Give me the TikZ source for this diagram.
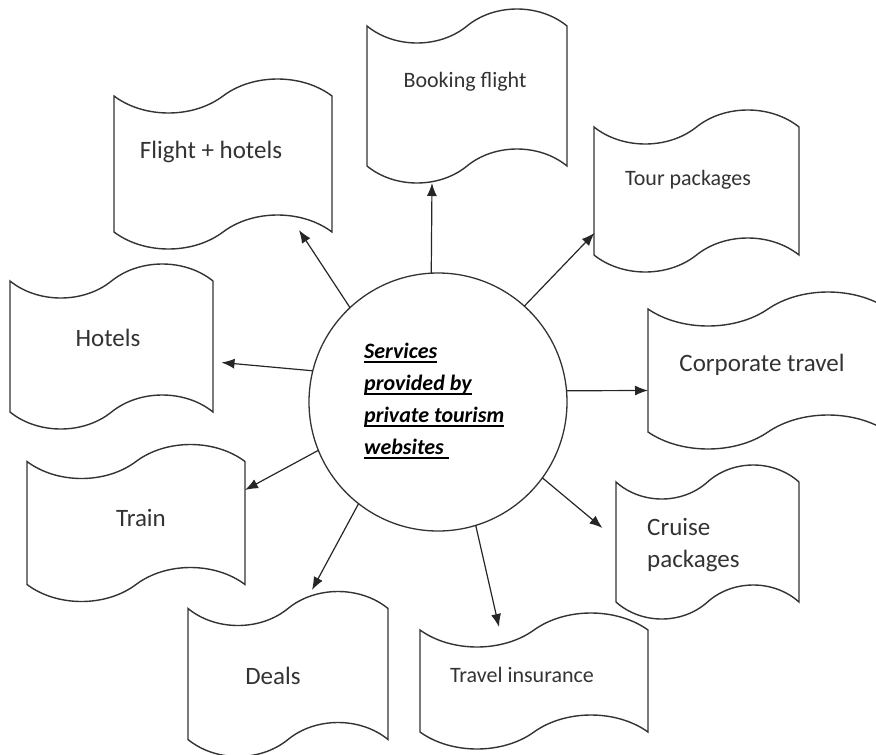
\documentclass[tikz,border=0pt]{standalone}
\usepackage{fontspec}
\setmainfont{Carlito}
\usetikzlibrary{shapes.symbols,arrows.meta}

% heavier underline than \underline gives
\newcommand{\undl}[1]{\setbox0\hbox{#1}\rlap{\rule[-4pt]{\wd0}{1.7pt}}\box0}

\begin{document}
\begin{tikzpicture}[x=1pt,y=-1pt,
    wave/.style={tape,draw=black!80,line width=1.4pt,tape bend height=34pt,inner sep=0pt,outer sep=0pt},
    big/.style={font=\fontsize{25}{32}\selectfont,text=black!80,inner sep=0pt},
    small/.style={font=\fontsize{22}{30}\selectfont,text=black!80,inner sep=0pt},
    link/.style={-{Latex[length=13pt,width=10pt]},line width=1.2pt,black!85}]
  \useasboundingbox (0,0) rectangle (876,755);

  % the hub
  \node (ctr) at (438,402) [circle,draw=black!80,line width=1.3pt,minimum size=258pt,inner sep=0pt,outer sep=0pt] {};
  \node (title) at (364,401) [anchor=west,align=left,inner sep=0pt,font=\fontsize{22}{32}\selectfont\bfseries\itshape]
    {\undl{Services}\\ \undl{provided by}\\ \undl{private tourism}\\ \undl{websites\ }};

  % services round it
  \node (book)   at (467,96)    [wave,minimum width=200pt,minimum height=174pt] {};
  \node (flhot)  at (223,164)   [wave,minimum width=218pt,minimum height=170pt] {};
  \node (tour)   at (696.5,191) [wave,minimum width=205pt,minimum height=162pt] {};
  \node (corp)   at (768,370.5) [wave,minimum width=240pt,minimum height=157pt] {};
  \node (hotels) at (111.5,346.5) [wave,minimum width=203pt,minimum height=165pt] {};
  \node (train)  at (136,523)   [wave,minimum width=218pt,minimum height=157pt] {};
  \node (deals)  at (288,674)   [wave,minimum width=200pt,minimum height=165pt] {};
  \node (trins)  at (534,681)   [wave,minimum width=228pt,minimum height=136pt] {};
  \node (cruise) at (707.5,542) [wave,minimum width=183pt,minimum height=154pt] {};

  \node (booktxt)   at (465,82)  [small] {Booking flight};
  \node (flhottxt)  at (211,152) [big] {Flight + hotels};
  \node (tourtxt)   at (688,180) [small] {Tour packages};
  \node (corptxt)   at (762,365) [big] {Corporate travel};
  \node (hotelstxt) at (108,338) [big] {Hotels};
  \node (traintxt)  at (141,518) [big] {Train};
  \node (dealstxt)  at (273,676) [big] {Deals};
  \node (trinstxt)  at (522,675) [small] {Travel insurance};
  \node (cruisetxt) at (647,545) [big,anchor=west,align=left] {Cruise\\packages};

  % arrows out of the hub
  \draw[link] (ctr.93)  -- ([shift={(-35,87)}]book.center);
  \draw[link] (ctr.133) -- ([shift={(76,66)}]flhot.center);
  \draw[link] (ctr.48)  -- ([shift={(-102,42)}]tour.center);
  \draw[link] (ctr.5)   -- ([shift={(-120,20)}]corp.center);
  \draw[link] (ctr.166) -- ([shift={(110,16)}]hotels.center);
  \draw[link] (ctr.202) -- ([shift={(109,-33)}]train.center);
  \draw[link] (ctr.232) -- ([shift={(24,-84)}]deals.center);
  \draw[link] (ctr.287) -- ([shift={(-35,-54)}]trins.center);
  \draw[link] (ctr.324) -- ([shift={(-105,-14)}]cruise.center);
\end{tikzpicture}
\end{document}
